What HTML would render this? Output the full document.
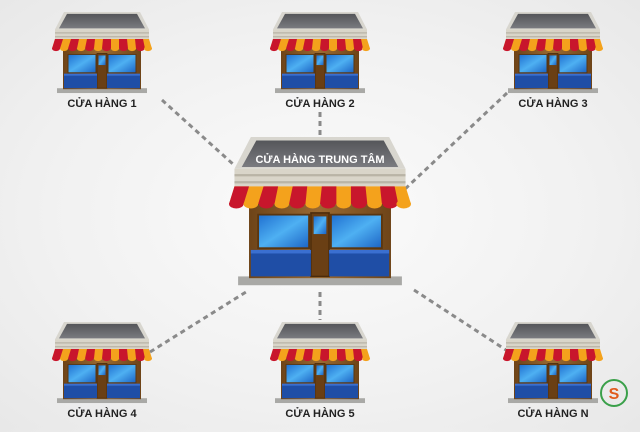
<!DOCTYPE html>
<html><head><meta charset="utf-8"><style>
html,body{margin:0;padding:0;}
body{width:640px;height:427px;overflow:hidden;background:radial-gradient(ellipse at center,#fbfbfb 0%,#f1f1f1 60%,#e8e8e8 100%);font-family:"Liberation Sans",sans-serif;}
</style></head><body>
<svg width="640" height="427" viewBox="0 0 640 427" xmlns="http://www.w3.org/2000/svg">
<defs>
<linearGradient id="roof" x1="0" y1="0" x2="0" y2="1"><stop offset="0" stop-color="#55565a"/><stop offset="1" stop-color="#7a7b80"/></linearGradient>
<linearGradient id="win" x1="0" y1="0" x2="1" y2="1"><stop offset="0" stop-color="#1f6fd0"/><stop offset=".5" stop-color="#4eb0f2"/><stop offset="1" stop-color="#1c63c4"/></linearGradient>
<linearGradient id="body" x1="0" y1="0" x2="1" y2="0"><stop offset="0" stop-color="#6e4418"/><stop offset=".5" stop-color="#9a6a32"/><stop offset="1" stop-color="#6e4418"/></linearGradient>
<symbol id="store" viewBox="0 0 100 85" preserveAspectRatio="none">
<rect x="5" y="79" width="90" height="5" fill="#a9a9a6"/>
<rect x="11" y="36" width="78" height="44" fill="url(#body)"/>
<polygon points="12,0 88,0 97,18 3,18" fill="#d8d6cf"/>
<polygon points="15,2 85,2 93,17 7,17" fill="url(#roof)"/>
<rect x="3" y="18" width="94" height="10" fill="#d9d5c9"/>
<rect x="3" y="21" width="94" height="1.3" fill="#b9b4a6"/>
<rect x="3" y="25" width="94" height="1.3" fill="#b9b4a6"/>
<polygon points="3,28 97,28 100,38 0,38" fill="#f4a21c"/>
<g fill="#c8162c">
<polygon points="3,28 11,28 8,38 0,38"/>
<polygon points="19,28 27,28 25,38 16,38"/>
<polygon points="35,28 43,28 42,38 33,38"/>
<polygon points="51,28 59,28 59,38 50,38"/>
<polygon points="67,28 75,28 76,38 67,38"/>
<polygon points="83,28 91,28 93,38 84,38"/>
<ellipse cx="4" cy="38" rx="4" ry="2.5"/><ellipse cx="20.5" cy="38" rx="4" ry="2.5"/><ellipse cx="37.5" cy="38" rx="4" ry="2.5"/><ellipse cx="54.5" cy="38" rx="4" ry="2.5"/><ellipse cx="71.5" cy="38" rx="4" ry="2.5"/><ellipse cx="88.5" cy="38" rx="4" ry="2.5"/></g>
<g fill="#f4a21c"><ellipse cx="12" cy="38" rx="4" ry="2.5"/><ellipse cx="29" cy="38" rx="4" ry="2.5"/><ellipse cx="46" cy="38" rx="4" ry="2.5"/><ellipse cx="63" cy="38" rx="4" ry="2.5"/><ellipse cx="80" cy="38" rx="4" ry="2.5"/><ellipse cx="96" cy="38" rx="4" ry="2.5"/></g>
<rect x="16" y="44" width="28" height="19" fill="url(#win)" stroke="#5a3610" stroke-width="1"/>
<rect x="56" y="44" width="28" height="19" fill="url(#win)" stroke="#5a3610" stroke-width="1"/>
<rect x="45" y="43" width="10" height="36" fill="#6a3f14" stroke="#4a2a0a" stroke-width=".8"/>
<rect x="46.5" y="45" width="7" height="10" fill="url(#win)"/>
<rect x="12" y="64" width="33" height="15" fill="#1f4ea6"/>
<rect x="55" y="64" width="33" height="15" fill="#1f4ea6"/>
<rect x="12" y="64" width="33" height="2" fill="#3a6fd0"/>
<rect x="55" y="64" width="33" height="2" fill="#3a6fd0"/>
</symbol>
</defs>
<g stroke="#8a8a8a" stroke-width="3" stroke-dasharray="5,4" fill="none">
<line x1="162" y1="100" x2="234" y2="165"/>
<line x1="320" y1="112" x2="320" y2="138"/>
<line x1="507" y1="93" x2="404" y2="190"/>
<line x1="150" y1="352" x2="246" y2="292"/>
<line x1="320" y1="292" x2="320" y2="320"/>
<line x1="414" y1="290" x2="506" y2="350"/>
</g>
<use href="#store" x="52" y="12" width="100" height="82"/>
<use href="#store" x="270" y="12" width="100" height="82"/>
<use href="#store" x="503" y="12" width="100" height="82"/>
<use href="#store" x="52" y="322" width="100" height="82"/>
<use href="#store" x="270" y="322" width="100" height="82"/>
<use href="#store" x="503" y="322" width="100" height="82"/>
<use href="#store" x="229" y="137" width="182" height="150"/>
<text x="320" y="163" text-anchor="middle" font-family="Liberation Sans,sans-serif" font-weight="bold" font-size="11" fill="#fff">CỬA HÀNG TRUNG TÂM</text>
<g font-family="Liberation Sans,sans-serif" font-weight="bold" font-size="11" fill="#222" text-anchor="middle">
<text x="102" y="107">CỬA HÀNG 1</text>
<text x="320" y="107">CỬA HÀNG 2</text>
<text x="553" y="107">CỬA HÀNG 3</text>
<text x="102" y="417">CỬA HÀNG 4</text>
<text x="320" y="417">CỬA HÀNG 5</text>
<text x="553" y="417">CỬA HÀNG N</text>
</g>
<circle cx="614" cy="393" r="13" fill="none" stroke="#3aa04a" stroke-width="2"/>
<text x="614" y="399" text-anchor="middle" font-family="Liberation Sans,sans-serif" font-weight="bold" font-size="16" fill="#e05a1c">S</text>
</svg>
</body></html>
